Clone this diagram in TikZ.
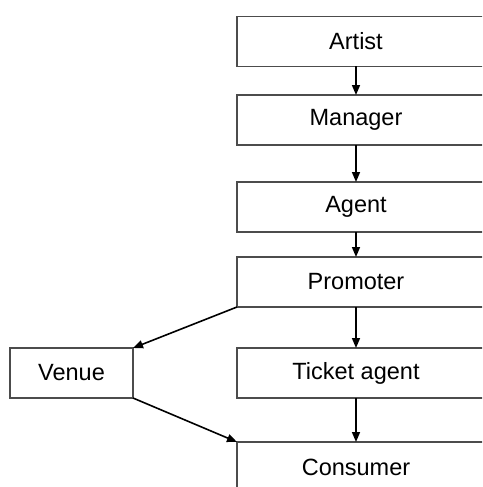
\documentclass[tikz,border=0pt]{standalone}
\usepackage{fontspec}
\setmainfont{Liberation Sans}
\usetikzlibrary{positioning,arrows.meta}

\begin{document}
\begin{tikzpicture}[thick, outer sep=0pt,
    stage/.style = {minimum width=238pt, minimum height=50pt, inner sep=0pt, font=\fontsize{23.5}{28}\selectfont},
    frame/.style = {draw=black!70, line width=1.3pt},
    flow/.style = {-{Triangle[length=10pt, width=8pt]}, line width=1.6pt}]
    \useasboundingbox (0,0) rectangle (482pt,-487pt);
    \clip (0,0) rectangle (482pt,-487pt);
    \node[stage] (artist) at (356pt,-41.5pt) {Artist};
    \node[stage] (manager) [below=28.5pt of artist] {Manager};
    \node[stage] (agent) [below=37pt of manager] {Agent};
    \node[stage] (promoter) [below=25pt of agent] {Promoter};
    \node[stage] (ticket) [below=41pt of promoter] {Ticket agent};
    \node[stage] (consumer) [below=44pt of ticket] {Consumer};
    \node[stage, frame, minimum width=123pt] (venue) [left=104pt of ticket] {Venue};
    % boxes run off the right edge
    \foreach \n in {artist, manager, agent, promoter, ticket, consumer}
        \draw[frame] (\n.north west) rectangle ([xshift=30pt]\n.south east);
    \draw[flow] (artist) -- (manager);
    \draw[flow] (manager) -- (agent);
    \draw[flow] (agent) -- (promoter);
    \draw[flow] (promoter) -- (ticket);
    \draw[flow] (ticket) -- (consumer);
    \draw[flow] (promoter.south west) -- (venue.north east);
    \draw[flow] (venue.south east) -- (consumer.north west);
\end{tikzpicture}
\end{document}
